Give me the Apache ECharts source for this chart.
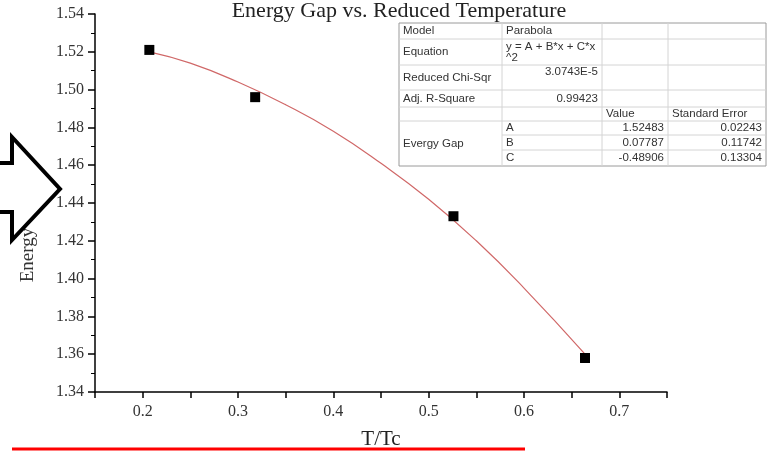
<!DOCTYPE html>
<html>
<head>
<meta charset="utf-8">
<title>Energy Gap vs. Reduced Temperature</title>
<script src="https://cdn.jsdelivr.net/npm/echarts@6/dist/echarts.min.js"></script>
<style>
  html, body { margin: 0; padding: 0; background: #fff; }
  #gapChart { width: 770px; height: 451px; }
</style>
</head>
<body>
<div id="gapChart"></div>
<script>
// measured points (T/Tc, energy gap)
var tRatio = [0.207, 0.318, 0.526, 0.664];
var gapVal = [1.521, 1.496, 1.433, 1.358];

// parabola fit
var fitX = [0.207, 0.25, 0.3, 0.35, 0.4, 0.45, 0.5, 0.55, 0.6, 0.664];
var fitY = [1.520, 1.514, 1.504, 1.492, 1.478, 1.461, 1.442, 1.420, 1.395, 1.360];

// fit report table
var colX = [399, 502, 602, 668, 766];
var rowY = [23, 39, 65, 90, 107, 121, 135, 150, 166];
var tableRows = [
    ['Model', 'Parabola', '', ''],
    ['Equation', 'y = A + B*x + C*x\n^2', '', ''],
    ['Reduced Chi-Sqr', '3.0743E-5', '', ''],
    ['Adj. R-Square', '0.99423', '', ''],
    ['', '', 'Value', 'Standard Error'],
    ['', 'A', '1.52483', '0.02243'],
    ['', 'B', '0.07787', '0.11742'],
    ['', 'C', '-0.48906', '0.13304']
];
var groupName = 'Evergy Gap';

var chart = echarts.init(document.getElementById('gapChart'));

function pair(xs, ys) {
    var out = [];
    for (var i = 0; i < xs.length; i++) out.push([xs[i], ys[i]]);
    return out;
}

function buildTable() {
    var els = [];
    var lineCol = '#d4d4d4';
    var txt = {fontFamily: 'Liberation Sans, Arial', fontSize: 11.5, fill: '#333'};
    // outer box
    els.push({type: 'rect', shape: {x: colX[0], y: rowY[0], width: colX[4] - colX[0], height: rowY[8] - rowY[0]},
        style: {fill: '#fff', stroke: '#9a9a9a', lineWidth: 1}, z: 10});
    // vertical lines
    for (var c = 1; c < 4; c++) {
        els.push({type: 'line', shape: {x1: colX[c], y1: rowY[0], x2: colX[c], y2: rowY[8]},
            style: {stroke: lineCol, lineWidth: 1}, z: 11});
    }
    // horizontal lines
    for (var r = 1; r < 8; r++) {
        var x1 = r >= 6 ? colX[1] : colX[0];
        els.push({type: 'line', shape: {x1: x1, y1: rowY[r], x2: colX[4], y2: rowY[r]},
            style: {stroke: lineCol, lineWidth: 1}, z: 11});
    }
    // cell texts
    for (var i = 0; i < tableRows.length; i++) {
        for (var j = 0; j < 4; j++) {
            var s = tableRows[i][j];
            if (!s) continue;
            var right = (i >= 2 && j === 1 && i < 4) || (i >= 5 && j >= 2);
            var top = i === 1 && j === 1;
            var yy = top ? rowY[i] + 2 : (i === 2 && j === 1 ? rowY[i] + 7 : (rowY[i] + rowY[i + 1]) / 2);
            els.push({type: 'text', z: 12, style: Object.assign({}, txt, {
                text: s,
                x: right ? colX[j + 1] - 4 : colX[j] + 4,
                y: yy,
                align: right ? 'right' : 'left',
                verticalAlign: top ? 'top' : 'middle',
                lineHeight: 11
            })});
        }
    }
    els.push({type: 'text', z: 12, style: Object.assign({}, txt, {
        text: groupName, x: colX[0] + 4, y: (rowY[5] + rowY[8]) / 2, verticalAlign: 'middle'})});
    return els;
}

var serif = 'Liberation Serif, Times New Roman, serif';

var option = {
    animation: false,
    backgroundColor: '#fff',
    title: {
        text: 'Energy Gap vs. Reduced Temperature',
        left: 394,
        textAlign: 'center',
        top: -5,
        textStyle: {fontFamily: serif, fontWeight: 'normal', fontSize: 22, color: '#222'}
    },
    grid: {left: 95, right: 103, top: 14, bottom: 59, outerBoundsMode: 'none'},
    xAxis: {
        type: 'value',
        min: 0.15,
        max: 0.75,
        interval: 0.05,
        name: 'T/Tc',
        nameLocation: 'middle',
        nameGap: 37,
        nameTextStyle: {fontFamily: serif, fontSize: 21, color: '#222'},
        splitLine: {show: false},
        axisLine: {lineStyle: {color: '#000', width: 1.5}},
        axisTick: {inside: false, length: 6, lineStyle: {color: '#000', width: 1.5}},
        axisLabel: {
            fontFamily: serif, fontSize: 16, color: '#333', margin: 12,
            formatter: function (v) {
                var k = Math.round(v * 100);
                return k % 10 === 0 ? (k / 100).toFixed(1) : '';
            }
        }
    },
    yAxis: {
        type: 'value',
        min: 1.34,
        max: 1.54,
        interval: 0.02,
        splitLine: {show: false},
        axisLine: {show: true, lineStyle: {color: '#000', width: 1.5}},
        axisTick: {show: true, length: 7, lineStyle: {color: '#000', width: 1.5}},
        minorTick: {show: true, splitNumber: 2, length: 4, lineStyle: {color: '#000', width: 1}},
        axisLabel: {
            fontFamily: serif, fontSize: 16, color: '#333', margin: 11,
            formatter: function (v) { return v.toFixed(2); }
        }
    },
    series: [
        {
            name: 'fit',
            type: 'line',
            smooth: true,
            showSymbol: false,
            lineStyle: {color: '#d06868', width: 1.2},
            data: pair(fitX, fitY),
            z: 2
        },
        {
            name: 'Energy Gap',
            type: 'scatter',
            symbol: 'rect',
            symbolSize: 10,
            itemStyle: {color: '#000', opacity: 1},
            data: pair(tRatio, gapVal),
            z: 3
        }
    ],
    graphic: buildTable().concat([
        {
            type: 'text', z: 5,
            x: 28, y: 255, rotation: Math.PI / 2,
            style: {text: 'Energy', fontFamily: serif, fontSize: 19, fill: '#333',
                align: 'center', verticalAlign: 'middle'}
        },
        {
            type: 'polygon', z: 20,
            shape: {points: [[-5, 163], [12, 163], [12, 137], [60, 189], [12, 240], [12, 212], [-5, 212]]},
            style: {fill: '#fff', stroke: '#000', lineWidth: 4, lineJoin: 'miter'}
        },
        {
            type: 'line', z: 20,
            shape: {x1: 12, y1: 449, x2: 525, y2: 449},
            style: {stroke: '#ff0000', lineWidth: 3}
        }
    ])
};

chart.setOption(option);
</script>
</body>
</html>
